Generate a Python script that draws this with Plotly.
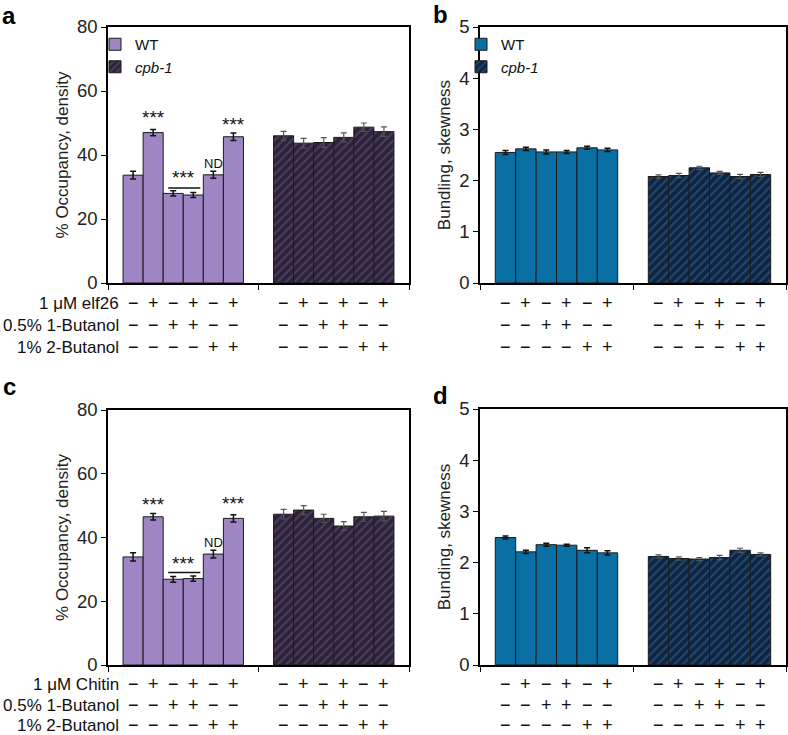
import plotly.graph_objects as go

# ---------------- data ----------------
genotypes = ["WT", "cpb-1"]
conditions = ["c1", "c2", "c3", "c4", "c5", "c6"]

a_wt = [33.7, 47.0, 28.0, 27.5, 33.8, 45.7]
a_wt_err = [1.2, 1.0, 0.8, 0.8, 1.1, 1.2]
a_cpb = [46.0, 43.7, 43.9, 45.5, 48.7, 47.3]
a_cpb_err = [1.4, 1.5, 1.5, 1.4, 1.3, 1.5]

b_wt = [2.55, 2.62, 2.56, 2.56, 2.64, 2.60]
b_wt_err = [0.04, 0.03, 0.04, 0.03, 0.03, 0.03]
b_cpb = [2.08, 2.10, 2.25, 2.15, 2.08, 2.12]
b_cpb_err = [0.03, 0.04, 0.03, 0.03, 0.04, 0.04]

c_wt = [33.9, 46.5, 26.9, 27.1, 34.8, 46.0]
c_wt_err = [1.3, 1.0, 0.9, 0.8, 1.2, 1.1]
c_cpb = [47.3, 48.6, 46.0, 43.6, 46.5, 46.7]
c_cpb_err = [1.5, 1.4, 1.3, 1.4, 1.4, 1.5]

d_wt = [2.49, 2.21, 2.35, 2.34, 2.24, 2.19]
d_wt_err = [0.03, 0.03, 0.03, 0.02, 0.05, 0.04]
d_cpb = [2.12, 2.08, 2.07, 2.10, 2.24, 2.16]
d_cpb_err = [0.03, 0.03, 0.03, 0.04, 0.04, 0.03]

row_labels_top = ["1 μM elf26", "0.5% 1-Butanol", "1% 2-Butanol"]
row_labels_bottom = ["1 μM Chitin", "0.5% 1-Butanol", "1% 2-Butanol"]
treat_rows = [
    ["−", "+", "−", "+", "−", "+"],
    ["−", "−", "+", "+", "−", "−"],
    ["−", "−", "−", "−", "+", "+"],
]

# ---------------- style ----------------
FONT = "Arial, Liberation Sans, sans-serif"
W, H = 788, 735
BARGAP = 0.2
purple = "#9d86c3"
purple_dark_bg = "#2c2339"
purple_dark_fg = "#6c5b84"
blue = "#0a6fa3"
blue_dark_bg = "#0e2440"
blue_dark_fg = "#32709f"
TXT = "#111111"


def px_x(p):
    return p / W


def px_y(p):
    return 1 - p / H


panels = {
    "a": dict(xa="x", ya="y", wt=a_wt, wte=a_wt_err, cpb=a_cpb, cpbe=a_cpb_err,
              c_wt=purple, c_bg=purple_dark_bg, c_fg=purple_dark_fg, legend="legend",
              xdom=[px_x(108), px_x(409)], ydom=[px_y(283), px_y(27)], yr=[0, 80], dt=20,
              ytitle="% Occupancy, density"),
    "b": dict(xa="x2", ya="y2", wt=b_wt, wte=b_wt_err, cpb=b_cpb, cpbe=b_cpb_err,
              c_wt=blue, c_bg=blue_dark_bg, c_fg=blue_dark_fg, legend="legend2",
              xdom=[px_x(480), px_x(786)], ydom=[px_y(283), px_y(27)], yr=[0, 5], dt=1,
              ytitle="Bundling, skewness"),
    "c": dict(xa="x3", ya="y3", wt=c_wt, wte=c_wt_err, cpb=c_cpb, cpbe=c_cpb_err,
              c_wt=purple, c_bg=purple_dark_bg, c_fg=purple_dark_fg, legend=None,
              xdom=[px_x(108), px_x(409)], ydom=[px_y(665), px_y(410)], yr=[0, 80], dt=20,
              ytitle="% Occupancy, density"),
    "d": dict(xa="x4", ya="y4", wt=d_wt, wte=d_wt_err, cpb=d_cpb, cpbe=d_cpb_err,
              c_wt=blue, c_bg=blue_dark_bg, c_fg=blue_dark_fg, legend=None,
              xdom=[px_x(480), px_x(786)], ydom=[px_y(665), px_y(409)], yr=[0, 5], dt=1,
              ytitle="Bunding, skewness"),
}

fig = go.Figure()

for key, p in panels.items():
    for i, cond in enumerate(conditions):
        show = p["legend"] is not None and i == 0
        kw = dict(legend=p["legend"]) if p["legend"] else {}
        fig.add_trace(go.Bar(
            x=[genotypes[0]], y=[p["wt"][i]], xaxis=p["xa"], yaxis=p["ya"],
            offsetgroup=cond, name="WT", showlegend=show,
            marker=dict(color=p["c_wt"], line=dict(color="#1a1a1a", width=1)),
            error_y=dict(type="data", array=[p["wte"][i]], color=TXT,
                         thickness=1.5, width=3),
            **kw,
        ))
        fig.add_trace(go.Bar(
            x=[genotypes[1]], y=[p["cpb"][i]], xaxis=p["xa"], yaxis=p["ya"],
            offsetgroup=cond, name="<i>cpb-1</i>", showlegend=show,
            marker=dict(color=p["c_bg"], line=dict(color="#1a1a1a", width=1),
                        pattern=dict(shape="/", bgcolor=p["c_bg"], fgcolor=p["c_fg"],
                                     size=6, solidity=0.35)),
            error_y=dict(type="data", array=[p["cpbe"][i]], color="#555555",
                         thickness=1.2, width=3),
            **kw,
        ))

layout_axes = {}
for key, p in panels.items():
    xname = "xaxis" + p["xa"][1:]
    yname = "yaxis" + p["ya"][1:]
    layout_axes[xname] = dict(
        domain=p["xdom"], anchor=p["ya"], type="category",
        categoryorder="array", categoryarray=genotypes, range=[-0.5, 1.5],
        showticklabels=False, ticks="outside", tickson="boundaries", ticklen=5,
        tickcolor="black", showline=True, linecolor="black", linewidth=1.5,
        mirror=True, showgrid=False, zeroline=False, automargin=False,
    )
    layout_axes[yname] = dict(
        domain=p["ydom"], anchor=p["xa"], range=p["yr"], dtick=p["dt"],
        ticks="outside", ticklen=5, tickcolor="black", showline=True,
        linecolor="black", linewidth=1.5, mirror=True, showgrid=False,
        zeroline=False, automargin=False,
        tickfont=dict(size=18.5, color="#222222", family=FONT),
        title=dict(text=p["ytitle"], font=dict(size=17, color="#222222", family=FONT),
                   standoff=4),
    )

annotations = []

# panel letters
for txt, xp, yp in [("a", 9, 15), ("b", 440, 14), ("c", 9, 386), ("d", 440, 395)]:
    annotations.append(dict(text="<b>%s</b>" % txt, x=px_x(xp), y=px_y(yp), xref="paper",
                            yref="paper", showarrow=False, xanchor="center", yanchor="middle",
                            font=dict(size=24, family=FONT, color="black")))

# treatment rows
bw = (1 - BARGAP) / 6
row_y_top = [303, 325, 347]
row_y_bot = [684, 705, 725]
for key, p in panels.items():
    rows_y = row_y_top if key in ("a", "b") else row_y_bot
    for r, ry in enumerate(rows_y):
        for g in range(2):
            for i in range(6):
                annotations.append(dict(
                    text=treat_rows[r][i], x=g + (i - 2.5) * bw, y=px_y(ry),
                    xref=p["xa"], yref="paper", showarrow=False,
                    xanchor="center", yanchor="middle",
                    font=dict(size=18, family=FONT, color=TXT)))
for labels, rows_y in [(row_labels_top, row_y_top), (row_labels_bottom, row_y_bot)]:
    for lab, ry in zip(labels, rows_y):
        annotations.append(dict(text=lab, x=px_x(121), y=px_y(ry), xref="paper", yref="paper",
                                showarrow=False, xanchor="right", yanchor="middle",
                                font=dict(size=17, family=FONT, color=TXT)))

# significance marks
sig = {
    "a": dict(star2=51.6, star6=49.4, star34=33.1, line34=29.7, nd=37.5),
    "c": dict(star2=50.2, star6=50.7, star34=31.7, line34=29.0, nd=38.5),
}
for key, s in sig.items():
    p = panels[key]
    for xi, yv in [(1, s["star2"]), (5, s["star6"])]:
        annotations.append(dict(text="***", x=(xi - 2.5) * bw, y=yv, xref=p["xa"], yref=p["ya"],
                                showarrow=False, font=dict(size=19, family=FONT, color=TXT)))
    annotations.append(dict(text="***", x=(2.5 - 2.5) * bw, y=s["star34"], xref=p["xa"],
                            yref=p["ya"], showarrow=False,
                            font=dict(size=19, family=FONT, color=TXT)))
    annotations.append(dict(text="ND", x=(4 - 2.5) * bw, y=s["nd"], xref=p["xa"], yref=p["ya"],
                            showarrow=False, font=dict(size=13, family=FONT, color=TXT)))

shapes = []
for key, s in sig.items():
    p = panels[key]
    shapes.append(dict(type="line", xref=p["xa"], yref=p["ya"],
                       x0=(2 - 2.5) * bw - 0.25 * bw, x1=(3 - 2.5) * bw + 0.35 * bw,
                       y0=s["line34"], y1=s["line34"], line=dict(color=TXT, width=1.5)))

legend_common = dict(bgcolor="rgba(0,0,0,0)", font=dict(size=15, family=FONT, color=TXT),
                     xanchor="left", yanchor="top", tracegroupgap=0, itemwidth=30,
                     traceorder="normal")

fig.update_layout(
    width=W, height=H, margin=dict(l=0, r=0, t=0, b=0, autoexpand=False),
    paper_bgcolor="white", plot_bgcolor="white",
    barmode="group", bargap=BARGAP, bargroupgap=0,
    font=dict(family=FONT),
    annotations=annotations, shapes=shapes,
    legend=dict(x=px_x(95), y=px_y(28), **legend_common),
    legend2=dict(x=px_x(461), y=px_y(28), **legend_common),
    **layout_axes,
)

fig.write_html("out.html", config={"displayModeBar": False},
               post_script="document.body.style.margin='0px';")
